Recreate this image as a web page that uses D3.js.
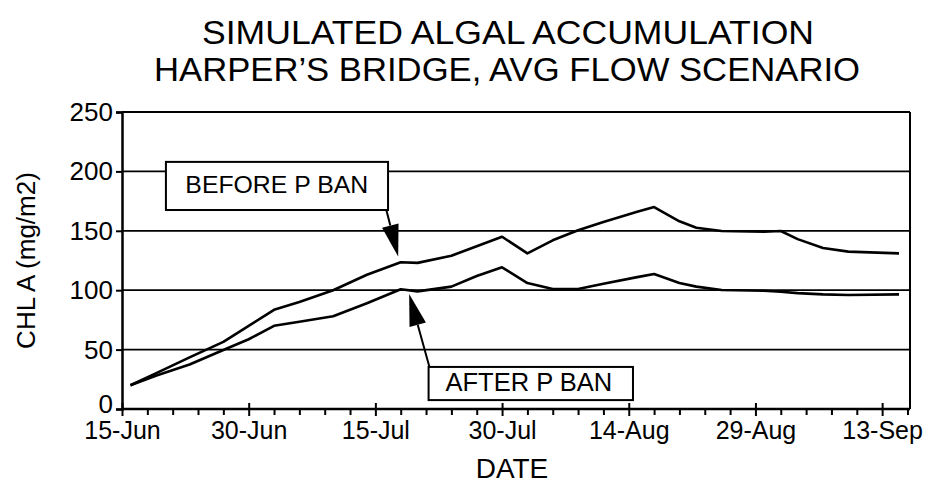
<!DOCTYPE html>
<html>
<head>
<meta charset="utf-8">
<script src="https://cdn.jsdelivr.net/npm/d3@7"></script>
<style>
  html, body { margin: 0; padding: 0; background: #fff; }
  svg { display: block; }
  text { font-family: "Liberation Sans", Arial, Helvetica, sans-serif; fill: #000; }
</style>
</head>
<body>
<svg id="chart" width="933" height="485"></svg>
<script>
// ---- data (days after 15-Jun) ----
const days   = [1, 4, 8, 12, 15, 18, 21, 25, 29, 33, 35, 39, 42, 45, 48, 51, 54, 57, 61, 63, 66, 68, 71, 76, 78, 80, 83, 86, 92];
const before = [20, 30, 43.5, 56.5, 70, 83.5, 90, 100, 113, 123.5, 123, 129, 137, 145, 131, 142, 150.5, 157.5, 166, 170, 158, 152.5, 149.8, 149.2, 149.8, 143, 135.5, 132.5, 131];
const after  = [20, 28, 37.5, 49.7, 58.7, 70, 73.5, 78, 89, 100.8, 99, 103, 112, 119.3, 106, 101, 101, 105.5, 111, 113.6, 106, 103, 100.2, 99.5, 98.7, 97.5, 96.5, 96, 96.5];
const xTickDays   = [0, 15, 30, 45, 60, 75, 90];
const xTickLabels = ["15-Jun", "30-Jun", "15-Jul", "30-Jul", "14-Aug", "29-Aug", "13-Sep"];
const yTicks      = [0, 50, 100, 150, 200, 250];
const titleLines  = ["SIMULATED ALGAL ACCUMULATION", "HARPER\u2019S BRIDGE, AVG FLOW SCENARIO"];
const yTitle = "CHL A (mg/m2)";
const xTitle = "DATE";

const svg = d3.select("#chart");
const M = {left: 122, right: 910, top: 112, bottom: 409};
const x = d3.scaleLinear().domain([0, 93.3]).range([M.left, M.right]);
const y = d3.scaleLinear().domain([0, 250]).range([M.bottom, M.top]);

// gridlines
svg.append("g").selectAll("line").data(yTicks.filter(v => v > 0)).join("line")
  .attr("x1", M.left).attr("x2", M.right)
  .attr("y1", d => y(d)).attr("y2", d => y(d))
  .attr("stroke", "#000").attr("stroke-width", 1.8);

// right border
svg.append("line").attr("x1", M.right).attr("x2", M.right).attr("y1", M.top).attr("y2", M.bottom)
  .attr("stroke", "#000").attr("stroke-width", 2);

// y axis
const yAxis = svg.append("g").attr("transform", `translate(${M.left},0)`)
  .call(d3.axisLeft(y).tickValues(yTicks).tickSize(6).tickPadding(3));
yAxis.select(".domain").attr("stroke-width", 2.5);
yAxis.selectAll(".tick line").attr("stroke-width", 2);
yAxis.selectAll("text").style("font-size", "26px")
  .attr("dy", d => d === 0 ? "0.12em" : "0.33em");

// x axis minor ticks
const minorDays = d3.range(0, 94, 3).filter(d => !xTickDays.includes(d));
svg.append("g").attr("transform", `translate(0,${M.bottom})`)
  .call(d3.axisBottom(x).tickValues(minorDays).tickSize(6).tickFormat(""))
  .call(g => g.select(".domain").remove())
  .selectAll(".tick line").attr("stroke-width", 2);

// x axis major
const xAxis = svg.append("g").attr("transform", `translate(0,${M.bottom})`)
  .call(d3.axisBottom(x).tickValues(xTickDays).tickSize(7).tickPadding(5)
    .tickFormat((d, i) => xTickLabels[i]));
xAxis.select(".domain").attr("stroke-width", 2.5).attr("d", `M${M.left},0H${M.right}`);
xAxis.selectAll(".tick line").attr("y1", -6).attr("stroke-width", 2);
xAxis.selectAll("text").style("font-size", "25px");

// lines
const line = d3.line().x((d, i) => x(days[i])).y(d => y(d));
[before, after].forEach(s => {
  svg.append("path").datum(s).attr("d", line)
    .attr("fill", "none").attr("stroke", "#000").attr("stroke-width", 2.6)
    .attr("stroke-linejoin", "round");
});

// annotations (in data coordinates)
const annots = [
  {label: "BEFORE P BAN", size: 24.8, box: [5.2, 208, 31.5, 167.5], text: [7.5, 182], tail: [31.3, 167.5], tip: [32.7, 128.3]},
  {label: "AFTER P BAN",  size: 25.5, box: [36.3, 35.4, 60.5, 7.5], text: [38.3, 15], tail: [36.4, 35.4], tip: [34.0, 96.8]}
];
annots.forEach(a => {
  const [bx0, by0, bx1, by1] = a.box;
  svg.append("rect").attr("x", x(bx0)).attr("y", y(by0))
    .attr("width", x(bx1) - x(bx0)).attr("height", y(by1) - y(by0))
    .attr("fill", "#fff").attr("stroke", "#000").attr("stroke-width", 2);
  svg.append("text").attr("x", x(a.text[0])).attr("y", y(a.text[1]))
    .style("font-size", a.size + "px").text(a.label);
  const tx = x(a.tail[0]), ty = y(a.tail[1]), px = x(a.tip[0]), py = y(a.tip[1]);
  const dx = px - tx, dy = py - ty, L = Math.hypot(dx, dy), ux = dx / L, uy = dy / L;
  const hl = 32, hw = 8.5;
  const bxp = px - ux * hl, byp = py - uy * hl;
  svg.append("line").attr("x1", tx).attr("y1", ty).attr("x2", bxp).attr("y2", byp)
    .attr("stroke", "#000").attr("stroke-width", 2);
  svg.append("path")
    .attr("d", `M${px},${py}L${bxp - uy * hw},${byp + ux * hw}L${bxp + uy * hw},${byp - ux * hw}Z`)
    .attr("fill", "#000");
});

// titles
svg.append("text").attr("x", 508).attr("y", 44).attr("text-anchor", "middle")
  .attr("textLength", 612).attr("lengthAdjust", "spacingAndGlyphs")
  .style("font-size", "33px").text(titleLines[0]);
svg.append("text").attr("x", 507).attr("y", 81).attr("text-anchor", "middle")
  .attr("textLength", 706).attr("lengthAdjust", "spacingAndGlyphs")
  .style("font-size", "33px").text(titleLines[1]);

// axis titles
svg.append("text").attr("transform", `translate(35,${(M.top + M.bottom) / 2}) rotate(-90)`)
  .attr("text-anchor", "middle").style("font-size", "26px").text(yTitle);
svg.append("text").attr("x", 512).attr("y", 478).attr("text-anchor", "middle")
  .style("font-size", "28px").text(xTitle);
</script>
</body>
</html>
